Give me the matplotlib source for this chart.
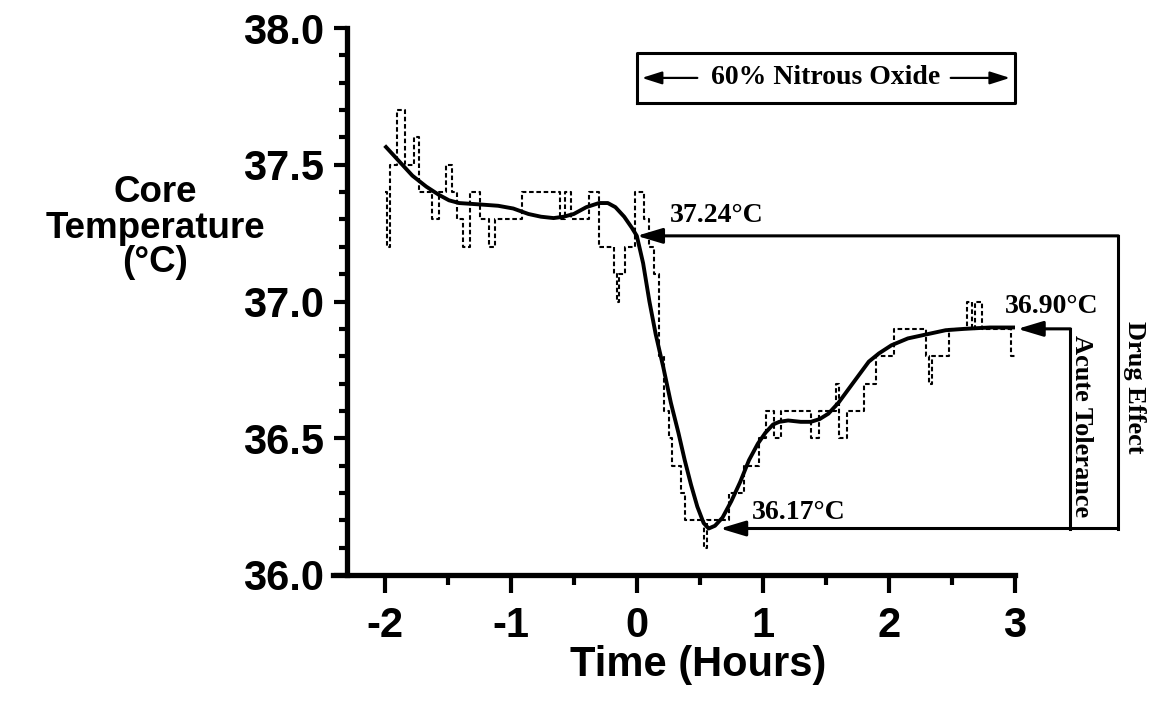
import matplotlib
matplotlib.use("Agg")
import matplotlib.pyplot as plt
from matplotlib.ticker import MultipleLocator

# measured core temperature (dashed steps), hours vs degC
step_t = [-2.000, -1.985, -1.955, -1.905, -1.836, -1.770, -1.730, -1.624, -1.571, -1.515,
          -1.466, -1.430, -1.380, -1.320, -1.241, -1.175, -1.122, -0.910, -0.606, -0.566,
          -0.526, -0.381, -0.302, -0.183, -0.160, -0.145, -0.090, -0.011, 0.056, 0.095,
          0.135, 0.175, 0.214, 0.254, 0.280, 0.347, 0.386, 0.532, 0.558, 0.730,
          0.849, 0.968, 1.024, 1.087, 1.143, 1.381, 1.444, 1.579, 1.603, 1.667,
          1.802, 1.897, 2.040, 2.294, 2.317, 2.341, 2.476, 2.619, 2.660, 2.680,
          2.738, 2.968, 3.000]
step_T = [37.4, 37.2, 37.5, 37.7, 37.5, 37.6, 37.4, 37.3, 37.4, 37.5,
          37.4, 37.3, 37.2, 37.4, 37.3, 37.2, 37.3, 37.4, 37.3, 37.4,
          37.3, 37.4, 37.2, 37.1, 37.0, 37.1, 37.2, 37.4, 37.3, 37.2,
          37.1, 36.8, 36.6, 36.5, 36.4, 36.3, 36.2, 36.1, 36.2, 36.3,
          36.4, 36.5, 36.6, 36.5, 36.6, 36.5, 36.6, 36.7, 36.5, 36.6,
          36.7, 36.8, 36.9, 36.8, 36.7, 36.8, 36.9, 37.0, 36.9, 37.0,
          36.9, 36.8, 36.8]

# smoothed fit (solid line)
fit_t = [-2.00, -1.90, -1.78, -1.67, -1.57, -1.49, -1.41, -1.25, -1.10, -0.98,
         -0.86, -0.76, -0.66, -0.58, -0.50, -0.40, -0.30, -0.23, -0.17, -0.10,
         -0.04, 0.00, 0.05, 0.10, 0.15, 0.21, 0.27, 0.33, 0.38, 0.43,
         0.48, 0.53, 0.57, 0.62, 0.68, 0.75, 0.82, 0.89, 0.96, 1.02,
         1.08, 1.13, 1.20, 1.30, 1.38, 1.45, 1.52, 1.60, 1.68, 1.76,
         1.84, 1.92, 2.02, 2.15, 2.30, 2.45, 2.60, 2.80, 3.00]
fit_T = [37.57, 37.52, 37.46, 37.42, 37.39, 37.37, 37.36, 37.355, 37.35, 37.34,
         37.32, 37.31, 37.305, 37.31, 37.32, 37.345, 37.36, 37.36, 37.345, 37.31,
         37.27, 37.24, 37.14, 37.00, 36.88, 36.76, 36.63, 36.52, 36.42, 36.33,
         36.25, 36.19, 36.17, 36.18, 36.21, 36.27, 36.34, 36.42, 36.48, 36.52,
         36.55, 36.56, 36.565, 36.56, 36.56, 36.57, 36.59, 36.63, 36.68, 36.73,
         36.78, 36.81, 36.84, 36.865, 36.88, 36.895, 36.90, 36.905, 36.905]

x_ticks = [-2, -1, 0, 1, 2, 3]
y_ticks = [36.0, 36.5, 37.0, 37.5, 38.0]

# annotation values
t_before, T_before = 0.0, 37.24
t_nadir, T_nadir = 0.66, 36.17
t_end, T_end = 3.0, 36.90
t_drug = 3.82
t_acute = 3.44

SANS = "Liberation Sans"
SERIF = "Liberation Serif"

fig = plt.figure(figsize=(11.57, 7.08), dpi=100)
ax = fig.add_axes([333 / 1157, 1 - 575 / 708, 682 / 1157, 547 / 708])

ax.step(step_t, step_T, where="post", color="black", lw=1.5, linestyle=(0, (2.2, 1.3)))
ax.plot(fit_t, fit_T, color="black", lw=2.8, solid_capstyle="butt")

ax.set_xlim(-2.41, 3.0)
ax.set_ylim(36.0, 38.0)

for s in ["top", "right"]:
    ax.spines[s].set_visible(False)
ax.spines["left"].set_position(("data", -2.3))
ax.spines["left"].set_linewidth(3.8)
ax.spines["bottom"].set_linewidth(3.8)

ax.set_xticks(x_ticks)
ax.set_xticklabels([str(v) for v in x_ticks])
ax.set_yticks(y_ticks)
ax.set_yticklabels(["%.1f" % v for v in y_ticks])
ax.xaxis.set_minor_locator(MultipleLocator(0.5))
ax.yaxis.set_minor_locator(MultipleLocator(0.1))
ax.tick_params(axis="x", which="major", length=13, width=3, direction="out", pad=9)
ax.tick_params(axis="x", which="minor", length=7, width=3, direction="out")
ax.tick_params(axis="y", which="major", length=9.5, width=3, direction="out", pad=7)
ax.tick_params(axis="y", which="minor", length=6, width=3, direction="out")
for lab in ax.get_xticklabels():
    lab.set_fontfamily(SANS)
    lab.set_fontweight("bold")
    lab.set_fontsize(30)
for lab in ax.get_yticklabels():
    lab.set_fontfamily(SANS)
    lab.set_fontweight("bold")
    lab.set_fontsize(30)

fig.text(155 / 1157, 1 - 228 / 708, "Core\nTemperature\n(°C)", ha="center", va="center",
         fontsize=26.5, fontweight="bold", family=SANS, linespacing=1.0)
fig.text(698 / 1157, 1 - 665 / 708, "Time (Hours)", ha="center", va="center",
         fontsize=30, fontweight="bold", family=SANS)

# nitrous oxide box
box_lo, box_hi = 37.726, 37.909
box_mid = (box_lo + box_hi) / 2
ax.plot([0, 3.0, 3.0, 0, 0], [box_lo, box_lo, box_hi, box_hi, box_lo], color="black",
        lw=2.2, clip_on=False)
ax.text(1.5, box_mid, "60% Nitrous Oxide", ha="center", va="center", fontsize=20,
        fontweight="bold", family=SERIF)
arrow_kw = dict(arrowstyle="-|>,head_length=1.1,head_width=0.35", color="black", lw=1.6,
                shrinkA=0, shrinkB=0, mutation_scale=11)
ax.annotate("", xy=(0.04, box_mid), xytext=(0.48, box_mid), arrowprops=arrow_kw,
            annotation_clip=False)
ax.annotate("", xy=(2.96, box_mid), xytext=(2.49, box_mid), arrowprops=arrow_kw,
            annotation_clip=False)

# drug effect / acute tolerance brackets
big_kw = dict(arrowstyle="-|>,head_length=1.1,head_width=0.33", color="black", lw=2.2,
              shrinkA=0, shrinkB=0, mutation_scale=14)
ax.plot([t_drug, t_drug], [T_before, T_nadir], color="black", lw=2.2, clip_on=False,
        solid_capstyle="projecting")
ax.plot([t_acute, t_acute], [T_end, T_nadir], color="black", lw=2.2, clip_on=False)
ax.annotate("", xy=(t_before, T_before), xytext=(t_drug, T_before), arrowprops=big_kw,
            annotation_clip=False)
ax.annotate("", xy=(t_nadir, T_nadir), xytext=(t_drug, T_nadir), arrowprops=big_kw,
            annotation_clip=False)
ax.annotate("", xy=(t_end + 0.02, T_end), xytext=(t_acute, T_end), arrowprops=big_kw,
            annotation_clip=False)

ax.text(0.26, 37.316, "37.24°C", ha="left", va="center", fontsize=20, fontweight="bold",
        family=SERIF)
ax.text(0.913, 36.227, "36.17°C", ha="left", va="center", fontsize=20, fontweight="bold",
        family=SERIF)
ax.text(2.92, 36.98, "36.90°C", ha="left", va="center", fontsize=20, fontweight="bold",
        family=SERIF, clip_on=False)
ax.text(3.95, 36.687, "Drug Effect", ha="center", va="center", rotation=-90, fontsize=19,
        fontweight="bold", family=SERIF, clip_on=False)
ax.text(3.53, 36.545, "Acute Tolerance", ha="center", va="center", rotation=-90, fontsize=19,
        fontweight="bold", family=SERIF, clip_on=False)

fig.savefig("out.png", dpi=100)
